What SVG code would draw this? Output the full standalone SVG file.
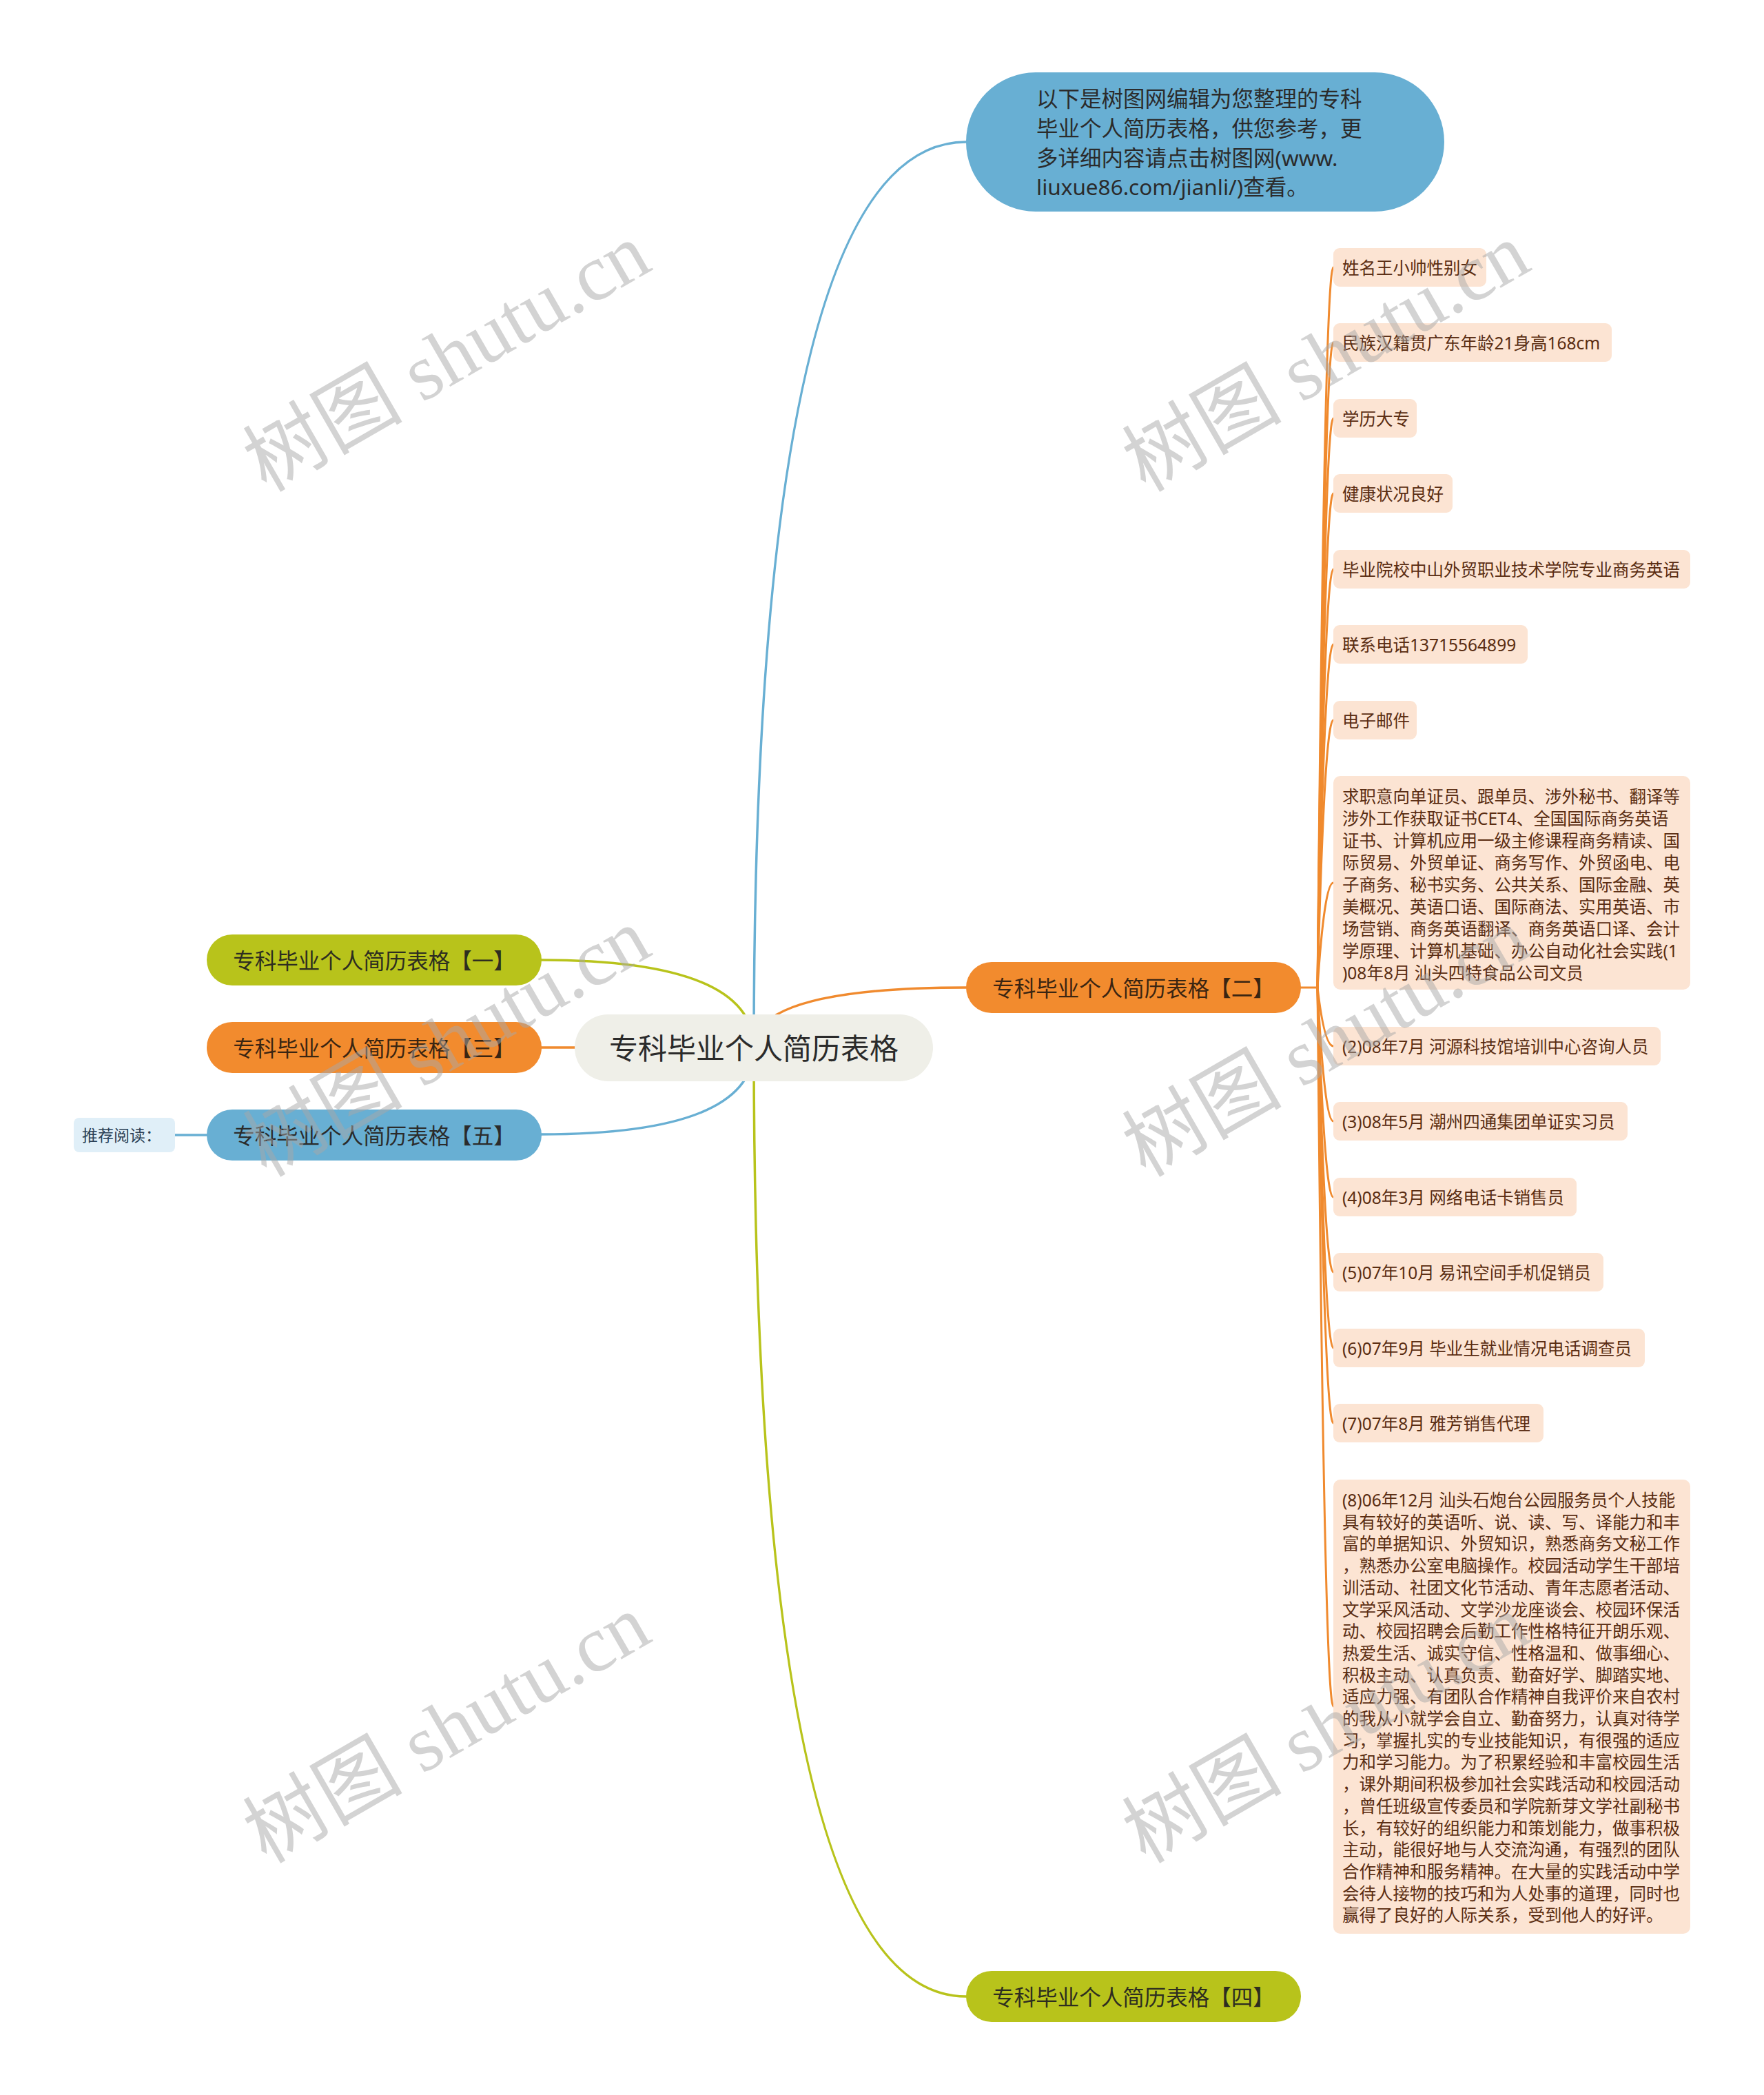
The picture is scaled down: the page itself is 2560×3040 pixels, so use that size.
<svg xmlns="http://www.w3.org/2000/svg" width="2560" height="3040" viewBox="0 0 2560 3040">
<style>
text{font-family:'Noto Sans','Noto Sans CJK SC',sans-serif;dominant-baseline:central}
.c{fill:none;stroke-width:3.5;stroke-linecap:round}
.cb{stroke:#68afd3}.co{stroke:#f08a2e}.cg{stroke:#b8c31b}
.lc{fill:none;stroke:#f08a2e;stroke-width:3}
.leaf rect{fill:#fce4d3}
.leaf text{font-size:24.5px;fill:#5a2d12}
.n1 text{font-size:31.5px;text-anchor:middle}
.wm{font-family:'Liberation Serif','Noto Sans CJK SC',serif;font-size:116px;fill:#a8a8a8;fill-opacity:0.5;text-anchor:middle;dominant-baseline:alphabetic}
</style>
<rect width="2560" height="3040" fill="#ffffff"/>
<g id="connectors">
<path class="c cb" d="M1094 1520 Q1094 206 1402 206"/>
<path class="c co" d="M1094 1520 Q1094 1433 1402 1433"/>
<path class="c cg" d="M1094 1520 Q1094 2897 1402 2897"/>
<path class="c cg" d="M1094 1520 Q1094 1393 785 1393"/>
<path class="c co" d="M1094 1520 L785 1520"/>
<path class="c cb" d="M1094 1520 Q1094 1646 785 1646"/>
<path class="c cb" d="M300 1647 L254 1647"/>
<path class="lc" d="M1887 1433 L1912 1433"/>
<path class="lc" d="M1912 1433 Q1922 388 1935 388"/>
<path class="lc" d="M1912 1433 Q1922 497 1935 497"/>
<path class="lc" d="M1912 1433 Q1922 607 1935 607"/>
<path class="lc" d="M1912 1433 Q1922 716 1935 716"/>
<path class="lc" d="M1912 1433 Q1922 826 1935 826"/>
<path class="lc" d="M1912 1433 Q1922 935 1935 935"/>
<path class="lc" d="M1912 1433 Q1922 1045 1935 1045"/>
<path class="lc" d="M1912 1433 Q1922 1281 1935 1281"/>
<path class="lc" d="M1912 1433 Q1922 1518 1935 1518"/>
<path class="lc" d="M1912 1433 Q1922 1627 1935 1627"/>
<path class="lc" d="M1912 1433 Q1922 1737 1935 1737"/>
<path class="lc" d="M1912 1433 Q1922 1846 1935 1846"/>
<path class="lc" d="M1912 1433 Q1922 1956 1935 1956"/>
<path class="lc" d="M1912 1433 Q1922 2065 1935 2065"/>
<path class="lc" d="M1912 1433 Q1922 2476 1935 2476"/>
</g>
<g id="root">
<rect x="834" y="1472" width="520" height="97" rx="48.5" fill="#efefe8"/>
<text x="1094" y="1520" font-size="42" fill="#2b2b2b" text-anchor="middle">专科毕业个人简历表格</text>
</g>
<g id="intro">
<rect x="1402" y="105" width="694" height="202" rx="101" fill="#68afd3"/>
<text font-size="31.5" fill="#2b2b2b">
<tspan x="1504" y="142">以下是树图网编辑为您整理的专科</tspan>
<tspan x="1504" y="185">毕业个人简历表格，供您参考，更</tspan>
<tspan x="1504" y="228">多详细内容请点击树图网(www.</tspan>
<tspan x="1504" y="270">liuxue86.com/jianli/)查看。</tspan>
</text>
</g>
<g id="n2" class="n1">
<rect x="1402" y="1396" width="486" height="74" rx="37" fill="#f28b2e"/>
<text x="1645" y="1433" fill="#3a2512">专科毕业个人简历表格【二】</text>
</g>
<g id="n4" class="n1">
<rect x="1402" y="2860" width="486" height="74" rx="37" fill="#b8c31b"/>
<text x="1645" y="2897" fill="#2d2d20">专科毕业个人简历表格【四】</text>
</g>
<g id="n1" class="n1">
<rect x="300" y="1356" width="486" height="74" rx="37" fill="#b8c31b"/>
<text x="543" y="1393" fill="#2d2d20">专科毕业个人简历表格【一】</text>
</g>
<g id="n3" class="n1">
<rect x="300" y="1483" width="486" height="74" rx="37" fill="#f28b2e"/>
<text x="543" y="1520" fill="#3a2512">专科毕业个人简历表格【三】</text>
</g>
<g id="n5" class="n1">
<rect x="300" y="1610" width="486" height="74" rx="37" fill="#68afd3"/>
<text x="543" y="1647" fill="#2b2b2b">专科毕业个人简历表格【五】</text>
</g>
<g id="recommend">
<rect x="107" y="1622" width="147" height="50" rx="8" fill="#e0eff8"/>
<text x="119" y="1647" font-size="23" fill="#2a3f55">推荐阅读：</text>
</g>
<g id="leaf1" class="leaf"><rect x="1935" y="360" width="222" height="56" rx="9"/><text x="1948" y="388">姓名王小帅性别女</text></g>
<g id="leaf2" class="leaf"><rect x="1935" y="469" width="404" height="56" rx="9"/><text x="1948" y="497">民族汉籍贯广东年龄21身高168cm</text></g>
<g id="leaf3" class="leaf"><rect x="1935" y="579" width="121" height="56" rx="9"/><text x="1948" y="607">学历大专</text></g>
<g id="leaf4" class="leaf"><rect x="1935" y="688" width="173" height="56" rx="9"/><text x="1948" y="716">健康状况良好</text></g>
<g id="leaf5" class="leaf"><rect x="1935" y="798" width="518" height="56" rx="9"/><text x="1948" y="826">毕业院校中山外贸职业技术学院专业商务英语</text></g>
<g id="leaf6" class="leaf"><rect x="1935" y="907" width="282" height="56" rx="9"/><text x="1948" y="935">联系电话13715564899</text></g>
<g id="leaf7" class="leaf"><rect x="1935" y="1017" width="121" height="56" rx="9"/><text x="1948" y="1045">电子邮件</text></g>
<g id="leaf8" class="leaf"><rect x="1935" y="1126" width="518" height="310" rx="10"/>
<text>
<tspan x="1948" y="1155">求职意向单证员、跟单员、涉外秘书、翻译等</tspan>
<tspan x="1948" y="1187">涉外工作获取证书CET4、全国国际商务英语</tspan>
<tspan x="1948" y="1219">证书、计算机应用一级主修课程商务精读、国</tspan>
<tspan x="1948" y="1251">际贸易、外贸单证、商务写作、外贸函电、电</tspan>
<tspan x="1948" y="1283">子商务、秘书实务、公共关系、国际金融、英</tspan>
<tspan x="1948" y="1315">美概况、英语口语、国际商法、实用英语、市</tspan>
<tspan x="1948" y="1347">场营销、商务英语翻译、商务英语口译、会计</tspan>
<tspan x="1948" y="1379">学原理、计算机基础、办公自动化社会实践(1</tspan>
<tspan x="1948" y="1411">)08年8月 汕头四特食品公司文员</tspan>
</text></g>
<g id="leaf9" class="leaf"><rect x="1935" y="1490" width="475" height="56" rx="9"/><text x="1948" y="1518">(2)08年7月 河源科技馆培训中心咨询人员</text></g>
<g id="leaf10" class="leaf"><rect x="1935" y="1599" width="427" height="56" rx="9"/><text x="1948" y="1627">(3)08年5月 潮州四通集团单证实习员</text></g>
<g id="leaf11" class="leaf"><rect x="1935" y="1709" width="353" height="56" rx="9"/><text x="1948" y="1737">(4)08年3月 网络电话卡销售员</text></g>
<g id="leaf12" class="leaf"><rect x="1935" y="1818" width="392" height="56" rx="9"/><text x="1948" y="1846">(5)07年10月 易讯空间手机促销员</text></g>
<g id="leaf13" class="leaf"><rect x="1935" y="1928" width="452" height="56" rx="9"/><text x="1948" y="1956">(6)07年9月 毕业生就业情况电话调查员</text></g>
<g id="leaf14" class="leaf"><rect x="1935" y="2037" width="305" height="56" rx="9"/><text x="1948" y="2065">(7)07年8月 雅芳销售代理</text></g>
<g id="leaf15" class="leaf"><rect x="1935" y="2147" width="518" height="659" rx="10"/>
<text>
<tspan x="1948" y="2176">(8)06年12月 汕头石炮台公园服务员个人技能</tspan>
<tspan x="1948" y="2207.7">具有较好的英语听、说、读、写、译能力和丰</tspan>
<tspan x="1948" y="2239.4">富的单据知识、外贸知识，熟悉商务文秘工作</tspan>
<tspan x="1948" y="2271.1">，熟悉办公室电脑操作。校园活动学生干部培</tspan>
<tspan x="1948" y="2302.8">训活动、社团文化节活动、青年志愿者活动、</tspan>
<tspan x="1948" y="2334.5">文学采风活动、文学沙龙座谈会、校园环保活</tspan>
<tspan x="1948" y="2366.2">动、校园招聘会后勤工作性格特征开朗乐观、</tspan>
<tspan x="1948" y="2397.9">热爱生活、诚实守信、性格温和、做事细心、</tspan>
<tspan x="1948" y="2429.6">积极主动、认真负责、勤奋好学、脚踏实地、</tspan>
<tspan x="1948" y="2461.3">适应力强、有团队合作精神自我评价来自农村</tspan>
<tspan x="1948" y="2493">的我从小就学会自立、勤奋努力，认真对待学</tspan>
<tspan x="1948" y="2524.7">习，掌握扎实的专业技能知识，有很强的适应</tspan>
<tspan x="1948" y="2556.4">力和学习能力。为了积累经验和丰富校园生活</tspan>
<tspan x="1948" y="2588.1">，课外期间积极参加社会实践活动和校园活动</tspan>
<tspan x="1948" y="2619.8">，曾任班级宣传委员和学院新芽文学社副秘书</tspan>
<tspan x="1948" y="2651.5">长，有较好的组织能力和策划能力，做事积极</tspan>
<tspan x="1948" y="2683.2">主动，能很好地与人交流沟通，有强烈的团队</tspan>
<tspan x="1948" y="2714.9">合作精神和服务精神。在大量的实践活动中学</tspan>
<tspan x="1948" y="2746.6">会待人接物的技巧和为人处事的道理，同时也</tspan>
<tspan x="1948" y="2778.3">赢得了良好的人际关系，受到他人的好评。</tspan>
</text></g>
<g id="watermarks">
<text class="wm" transform="translate(648 518) rotate(-30)" y="40">树图 shutu.cn</text>
<text class="wm" transform="translate(1924 518) rotate(-30)" y="40">树图 shutu.cn</text>
<text class="wm" transform="translate(648 1512) rotate(-30)" y="40">树图 shutu.cn</text>
<text class="wm" transform="translate(1924 1512) rotate(-30)" y="40">树图 shutu.cn</text>
<text class="wm" transform="translate(648 2508) rotate(-30)" y="40">树图 shutu.cn</text>
<text class="wm" transform="translate(1924 2508) rotate(-30)" y="40">树图 shutu.cn</text>
</g>
</svg>
